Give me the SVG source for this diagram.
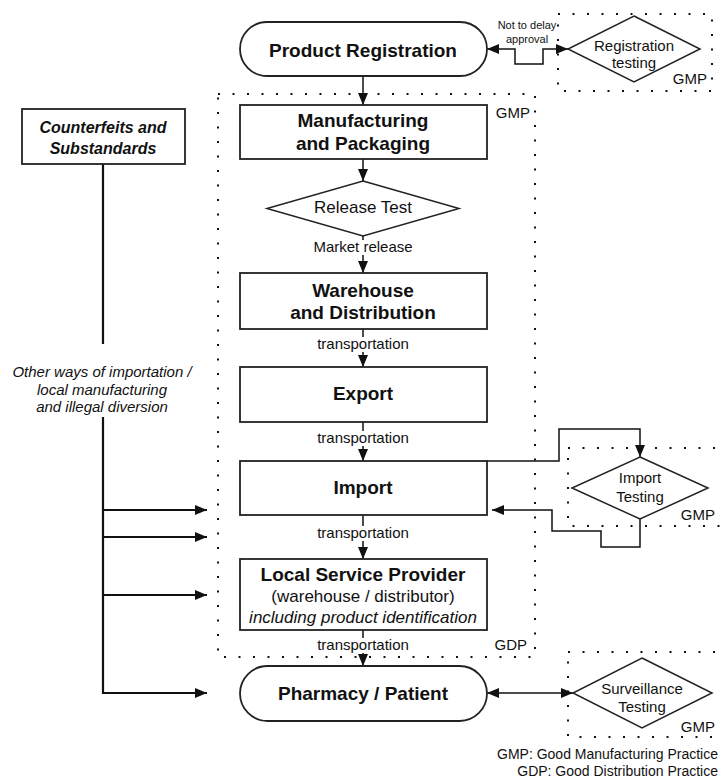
<svg xmlns="http://www.w3.org/2000/svg" width="721" height="780" viewBox="0 0 721 780">
<style>
text{font-family:"Liberation Sans",Arial,sans-serif;fill:#111;text-anchor:middle}
.b{font-weight:bold;font-size:19px}
.r{font-size:15px}
.s{font-size:11px}
.i{font-style:italic}
.box{fill:#fff;stroke:#222;stroke-width:1.8}
.dot{fill:none;stroke:#111;stroke-width:2;stroke-dasharray:2 12.5}
.ln{fill:none;stroke:#111;stroke-width:1.5}
.tr{fill:none;stroke:#111;stroke-width:2.2}
.bg{fill:#fff}
</style>
<defs>
<marker id="ah" viewBox="0 0 12 10" refX="12" refY="5" markerWidth="12" markerHeight="10" markerUnits="userSpaceOnUse" orient="auto-start-reverse">
<path d="M0,0 L12,5 L0,10 z" fill="#111"/>
</marker>
</defs>

<g id="zones">
<rect class="dot" x="218" y="94" width="317" height="563"/>
<rect class="dot" x="558" y="14" width="154" height="77"/>
<rect class="dot" x="568" y="448" width="160" height="78"/>
<rect class="dot" x="568" y="652" width="160" height="85"/>
<text class="r" x="530" y="118" style="text-anchor:end">GMP</text>
<text class="r" x="527" y="650" style="text-anchor:end">GDP</text>
</g>

<g id="connectors">
<line class="ln" x1="363" y1="76" x2="363" y2="105" marker-end="url(#ah)"/>
<line class="ln" x1="363" y1="159" x2="363" y2="181" marker-end="url(#ah)"/>
<line class="ln" x1="363" y1="236" x2="363" y2="273" marker-end="url(#ah)"/>
<line class="ln" x1="363" y1="329" x2="363" y2="367" marker-end="url(#ah)"/>
<line class="ln" x1="363" y1="422" x2="363" y2="461" marker-end="url(#ah)"/>
<line class="ln" x1="363" y1="515" x2="363" y2="559" marker-end="url(#ah)"/>
<line class="ln" x1="363" y1="630" x2="363" y2="666" marker-end="url(#ah)"/>
<polyline class="ln" points="487,49 515,49 515,64 543,64 543,49 568,49" marker-start="url(#ah)" marker-end="url(#ah)"/>
<polyline class="ln" points="487,461 559,461 559,429 640,429 640,457" marker-end="url(#ah)"/>
<polyline class="ln" points="640,519 640,547 601,547 601,531 552,531 552,510 492,510" marker-end="url(#ah)"/>
<line class="ln" x1="487" y1="693" x2="573" y2="693" marker-start="url(#ah)" marker-end="url(#ah)"/>
<line class="tr" x1="103" y1="164" x2="103" y2="344"/>
<polyline class="tr" points="103,417 103,693 207,693" marker-end="url(#ah)"/>
<line class="tr" x1="103" y1="510" x2="207" y2="510" marker-end="url(#ah)"/>
<line class="tr" x1="103" y1="537" x2="207" y2="537" marker-end="url(#ah)"/>
<line class="tr" x1="103" y1="595" x2="207" y2="595" marker-end="url(#ah)"/>
<rect class="bg" x="329" y="240" width="68" height="15"/>
<text class="r" x="363" y="252">Market release</text>
<rect class="bg" x="316" y="337" width="94" height="15"/>
<text class="r" x="363" y="349">transportation</text>
<rect class="bg" x="316" y="431" width="94" height="15"/>
<text class="r" x="363" y="443">transportation</text>
<rect class="bg" x="316" y="526" width="94" height="15"/>
<text class="r" x="363" y="538">transportation</text>
<rect class="bg" x="316" y="638" width="94" height="15"/>
<text class="r" x="363" y="650">transportation</text>
<text class="s" x="527" y="29">Not to delay</text>
<text class="s" x="527" y="43">approval</text>
<text class="r i" x="102" y="377">Other ways of importation /</text>
<text class="r i" x="102" y="395">local manufacturing</text>
<text class="r i" x="102" y="412">and illegal diversion</text>
</g>

<g id="product-registration">
<rect class="box" x="240" y="22" width="247" height="54" rx="27"/>
<text class="b" x="363" y="57">Product Registration</text>
</g>
<g id="registration-testing">
<polygon class="box" points="634,16 700,49 634,82 568,49" style="stroke-width:1.5"/>
<text class="r" x="634" y="51">Registration</text>
<text class="r" x="634" y="68">testing</text>
<text class="r" x="707" y="84" style="text-anchor:end">GMP</text>
</g>
<g id="counterfeits">
<rect class="box" x="22" y="109" width="163" height="55"/>
<text class="b i" x="103" y="133" style="font-size:16px">Counterfeits and</text>
<text class="b i" x="103" y="154" style="font-size:16px">Substandards</text>
</g>
<g id="manufacturing">
<rect class="box" x="240" y="105" width="247" height="54"/>
<text class="b" x="363" y="127">Manufacturing</text>
<text class="b" x="363" y="150">and Packaging</text>
</g>
<g id="release-test">
<polygon class="box" points="363,181 459,208.5 363,236 267,208.5" style="stroke-width:1.5"/>
<text class="r" x="363" y="213" style="font-size:17px">Release Test</text>
</g>
<g id="warehouse">
<rect class="box" x="240" y="273" width="247" height="56"/>
<text class="b" x="363" y="297">Warehouse</text>
<text class="b" x="363" y="319">and Distribution</text>
</g>
<g id="export">
<rect class="box" x="240" y="367" width="247" height="55"/>
<text class="b" x="363" y="400">Export</text>
</g>
<g id="import">
<rect class="box" x="240" y="461" width="247" height="54"/>
<text class="b" x="363" y="494">Import</text>
</g>
<g id="import-testing">
<polygon class="box" points="640,457 708,488 640,519 572,488" style="stroke-width:1.5"/>
<text class="r" x="640" y="483">Import</text>
<text class="r" x="640" y="502">Testing</text>
<text class="r" x="715" y="520" style="text-anchor:end">GMP</text>
</g>
<g id="local-service-provider">
<rect class="box" x="240" y="559" width="247" height="71"/>
<text class="b" x="363" y="581">Local Service Provider</text>
<text class="r" x="363" y="602" style="font-size:17px">(warehouse / distributor)</text>
<text class="r i" x="363" y="623" style="font-size:17px">including product identification</text>
</g>
<g id="pharmacy">
<rect class="box" x="240" y="666" width="247" height="55" rx="27.5"/>
<text class="b" x="363" y="700">Pharmacy / Patient</text>
</g>
<g id="surveillance-testing">
<polygon class="box" points="642,658 712,693 642,728 573,693" style="stroke-width:1.5"/>
<text class="r" x="642" y="694">Surveillance</text>
<text class="r" x="642" y="712">Testing</text>
<text class="r" x="715" y="732" style="text-anchor:end">GMP</text>
</g>
<g id="legend">
<text x="718" y="759" style="text-anchor:end;font-size:14px">GMP: Good Manufacturing Practice</text>
<text x="718" y="776" style="text-anchor:end;font-size:14px">GDP: Good Distribution Practice</text>
</g>
</svg>
